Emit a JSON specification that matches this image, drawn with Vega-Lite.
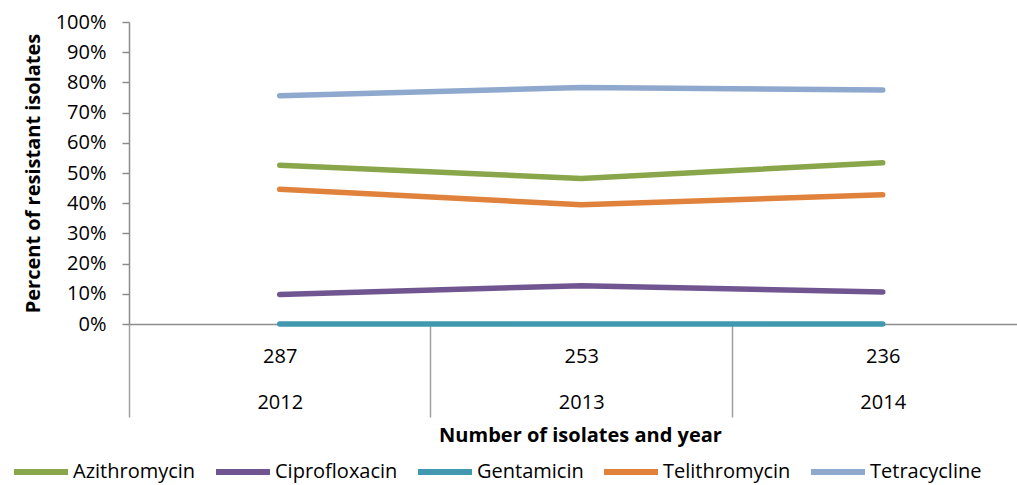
{
  "$schema": "https://vega.github.io/schema/vega-lite/v6.json",
  "width": 888,
  "height": 302,
  "autosize": {"type": "none"},
  "padding": {"left": 129, "top": 22, "right": 0, "bottom": 161},
  "background": "white",
  "config": {"view": {"stroke": null}, "font": "Open Sans"},
  "data": {
    "values": [
      {"year": 2012, "drug": "Azithromycin", "pct": 0.526},
      {"year": 2013, "drug": "Azithromycin", "pct": 0.482},
      {"year": 2014, "drug": "Azithromycin", "pct": 0.534},
      {"year": 2012, "drug": "Ciprofloxacin", "pct": 0.098},
      {"year": 2013, "drug": "Ciprofloxacin", "pct": 0.127},
      {"year": 2014, "drug": "Ciprofloxacin", "pct": 0.106},
      {"year": 2012, "drug": "Gentamicin", "pct": 0},
      {"year": 2013, "drug": "Gentamicin", "pct": 0},
      {"year": 2014, "drug": "Gentamicin", "pct": 0},
      {"year": 2012, "drug": "Telithromycin", "pct": 0.446},
      {"year": 2013, "drug": "Telithromycin", "pct": 0.395},
      {"year": 2014, "drug": "Telithromycin", "pct": 0.428},
      {"year": 2012, "drug": "Tetracycline", "pct": 0.756},
      {"year": 2013, "drug": "Tetracycline", "pct": 0.783},
      {"year": 2014, "drug": "Tetracycline", "pct": 0.775}
    ]
  },
  "mark": {"type": "line", "strokeWidth": 5.5, "strokeCap": "round", "strokeJoin": "round"},
  "encoding": {
    "x": {
      "field": "year",
      "type": "quantitative",
      "scale": {"domain": [2011.5, 2014.4453], "nice": false, "zero": false},
      "axis": {
        "values": [2011.5, 2012.5, 2013.5],
        "grid": false,
        "title": "Number of isolates and year",
        "tickSize": 93,
        "tickColor": "#a0a0a0",
        "tickWidth": 1.5,
        "domainColor": "#8c8c8c",
        "domainWidth": 1.5,
        "labelExpr": "datum.value < 2012 ? ['287', '2012'] : datum.value < 2013 ? ['253', '2013'] : ['236', '2014']",
        "labelOffset": 150.75,
        "labelBaseline": "alphabetic",
        "labelPadding": -55,
        "labelLineHeight": 46,
        "labelFontSize": 20,
        "labelColor": "#000000",
        "labelAlign": "center",
        "labelFlush": false,
        "labelOverlap": false,
        "titleFontSize": 20,
        "titleFontWeight": "bold",
        "titleColor": "#000000",
        "titleX": 451,
        "titleY": 117,
        "titleBaseline": "alphabetic",
        "titleAlign": "center",
        "titleAnchor": null
      }
    },
    "y": {
      "field": "pct",
      "type": "quantitative",
      "scale": {"domain": [0, 1], "nice": false},
      "axis": {
        "values": [0, 0.1, 0.2, 0.3, 0.4, 0.5, 0.6, 0.7, 0.8, 0.9, 1],
        "format": ".0%",
        "grid": false,
        "tickSize": 7,
        "tickColor": "#8c8c8c",
        "tickWidth": 1.5,
        "domainColor": "#8c8c8c",
        "domainWidth": 1.5,
        "labelPadding": 16,
        "labelFontSize": 20,
        "labelColor": "#000000",
        "labelFlush": false,
        "labelOverlap": false,
        "title": "Percent of resistant isolates",
        "titleFontSize": 20,
        "titleFontWeight": "bold",
        "titleColor": "#000000",
        "titleX": -90,
        "titleY": 151,
        "titleBaseline": "alphabetic",
        "titleAlign": "center",
        "titleAnchor": null
      }
    },
    "color": {
      "field": "drug",
      "type": "nominal",
      "scale": {
        "domain": ["Azithromycin", "Ciprofloxacin", "Gentamicin", "Telithromycin", "Tetracycline"],
        "range": ["#8aa64b", "#705590", "#4198af", "#e0823b", "#8ea8ce"]
      },
      "legend": {
        "orient": "none",
        "legendX": -118,
        "legendY": 420,
        "direction": "horizontal",
        "columns": 5,
        "title": null,
        "symbolType": "stroke",
        "symbolSize": 2916,
        "symbolStrokeWidth": 6,
        "labelOffset": 2,
        "columnPadding": 8,
        "labelFontSize": 20,
        "labelColor": "#000000",
        "padding": 0
      }
    }
  }
}
